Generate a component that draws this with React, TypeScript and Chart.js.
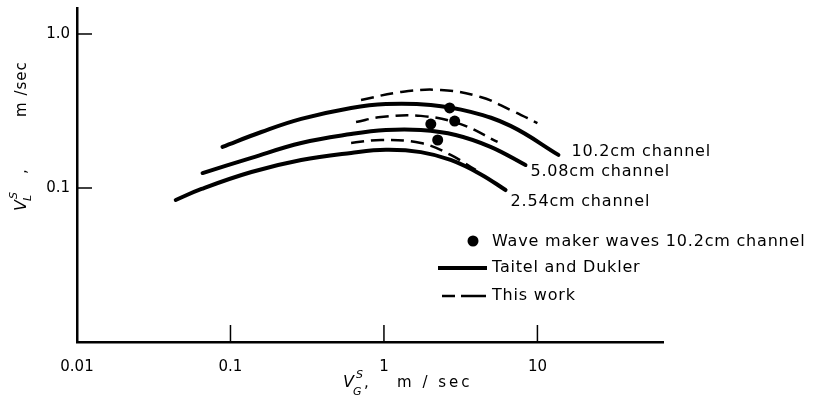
import React, { useEffect, useRef } from "react";
import { Chart, registerables } from "chart.js";

Chart.register(...registerables);

const FONT = "'DejaVu Sans', sans-serif";

// Axis ticks
const xTicks = [0.01, 0.1, 1, 10];
const xTickLabels = ["0.01", "0.1", "1", "10"];
const yTicks = [0.1, 1];
const yTickLabels = ["0.1", "1.0"];

// Taitel and Dukler (solid)
const td102X = [0.0887, 0.159, 0.289, 0.611, 1.03, 2.02, 3.67, 6.68, 13.7];
const td102Y = [0.185, 0.231, 0.281, 0.331, 0.351, 0.346, 0.312, 0.253, 0.164];
const td508X = [0.0658, 0.137, 0.289, 0.611, 1.03, 1.74, 2.93, 4.95, 8.36];
const td508Y = [0.125, 0.157, 0.196, 0.224, 0.238, 0.238, 0.221, 0.185, 0.141];
const td254X = [0.044, 0.0648, 0.137, 0.289, 0.611, 1.03, 1.74, 2.72, 4.26, 6.2];
const td254Y = [0.0836, 0.0986, 0.127, 0.152, 0.169, 0.177, 0.171, 0.152, 0.123, 0.097];

// This work (dashed)
const tw102X = [0.709, 1.29, 2.35, 4.26, 6.68, 10.0];
const tw102Y = [0.373, 0.42, 0.433, 0.39, 0.321, 0.264];
const tw508X = [0.658, 0.957, 1.74, 3.16, 5.5];
const tw508Y = [0.268, 0.289, 0.294, 0.26, 0.199];
const tw254X = [0.611, 0.957, 1.74, 2.72, 3.96];
const tw254Y = [0.196, 0.205, 0.196, 0.164, 0.131];

// Wave maker waves, 10.2 cm channel
const wmX = [2.68, 2.89, 2.02, 2.24];
const wmY = [0.331, 0.272, 0.26, 0.205];

const curveLabels = ["10.2cm channel", "5.08cm channel", "2.54cm channel"];
const legendLabels = ["Wave maker waves 10.2cm channel", "Taitel and Dukler", "This work"];

const pts = (xs: number[], ys: number[]) => xs.map((x, i) => ({ x, y: ys[i] }));

const solid = (xs: number[], ys: number[]) => ({
  data: pts(xs, ys),
  borderColor: "#000",
  borderWidth: 4,
  pointRadius: 0,
  tension: 0.4,
  fill: false,
  borderCapStyle: "round" as const,
});
const dashed = (xs: number[], ys: number[]) => ({
  data: pts(xs, ys),
  borderColor: "#000",
  borderWidth: 2.5,
  borderDash: [13, 7],
  pointRadius: 0,
  tension: 0.4,
  fill: false,
});

const innerTicks = {
  id: "innerTicks",
  afterDraw(chart: any) {
    const { ctx, chartArea, scales } = chart;
    ctx.save();
    ctx.strokeStyle = "#000";
    ctx.lineWidth = 1.5;
    for (const v of xTicks) {
      const px = scales.x.getPixelForValue(v);
      if (px - chartArea.left < 3) continue;
      ctx.beginPath();
      ctx.moveTo(px, chartArea.bottom);
      ctx.lineTo(px, chartArea.bottom - 17);
      ctx.stroke();
    }
    for (const v of yTicks) {
      const py = scales.y.getPixelForValue(v);
      ctx.beginPath();
      ctx.moveTo(chartArea.left, py);
      ctx.lineTo(chartArea.left + 15, py);
      ctx.stroke();
    }
    ctx.restore();
  },
};

const texts = {
  id: "texts",
  afterDraw(chart: any) {
    const { ctx } = chart;
    ctx.save();
    ctx.fillStyle = "#000";
    ctx.strokeStyle = "#000";
    // curve labels anchored at ends of solid curves
    const offs = [
      [13, -3],
      [5, 7],
      [5, 12],
    ];
    for (let i = 0; i < 3; i++) {
      const meta = chart.getDatasetMeta(i);
      const last = meta.data[meta.data.length - 1];
      ctx.font = `16px ${FONT}`;
      (ctx as any).letterSpacing = "0.8px";
      ctx.textBaseline = "middle";
      ctx.textAlign = "left";
      ctx.fillText(curveLabels[i], last.x + offs[i][0], last.y + offs[i][1]);
    }
    // legend
    ctx.beginPath();
    ctx.arc(473, 241, 5.5, 0, Math.PI * 2);
    ctx.fill();
    ctx.fillText(legendLabels[0], 492, 242);
    ctx.lineWidth = 4;
    ctx.beginPath();
    ctx.moveTo(438, 268);
    ctx.lineTo(487, 268);
    ctx.stroke();
    ctx.fillText(legendLabels[1], 492, 268);
    ctx.lineWidth = 2.5;
    ctx.beginPath();
    ctx.moveTo(442, 296);
    ctx.lineTo(455, 296);
    ctx.moveTo(461, 296);
    ctx.lineTo(486, 296);
    ctx.stroke();
    ctx.fillText(legendLabels[2], 492, 296);

    // x axis title
    ctx.textBaseline = "alphabetic";
    (ctx as any).letterSpacing = "0px";
    ctx.font = `italic 16px ${FONT}`;
    ctx.fillText("V", 343, 387);
    ctx.font = `italic 11px ${FONT}`;
    ctx.fillText("S", 356, 378);
    ctx.fillText("G", 353, 395);
    ctx.font = `15px ${FONT}`;
    ctx.fillText(",", 364, 387);
    (ctx as any).letterSpacing = "3px";
    ctx.fillText("m / sec", 397, 387);

    // y axis title (rotated)
    ctx.translate(26, 211);
    ctx.rotate(-Math.PI / 2);
    (ctx as any).letterSpacing = "0px";
    ctx.font = `italic 16px ${FONT}`;
    ctx.fillText("V", 0, 0);
    ctx.font = `italic 11px ${FONT}`;
    ctx.fillText("S", 12, -9);
    ctx.fillText("L", 10, 5);
    ctx.font = `15px ${FONT}`;
    ctx.fillText(",", 37, 0);
    (ctx as any).letterSpacing = "1px";
    ctx.font = `15px ${FONT}`;
    ctx.fillText("m /sec", 94, 0);
    ctx.restore();
  },
};

export default function App() {
  const ref = useRef<HTMLCanvasElement>(null);
  useEffect(() => {
    const canvas = ref.current!;
    const chart = new Chart(canvas, {
      type: "line",
      data: {
        datasets: [
          solid(td102X, td102Y),
          solid(td508X, td508Y),
          solid(td254X, td254Y),
          dashed(tw102X, tw102Y),
          dashed(tw508X, tw508Y),
          dashed(tw254X, tw254Y),
          {
            data: pts(wmX, wmY),
            showLine: false,
            pointRadius: 5.5,
            pointBackgroundColor: "#000",
            pointBorderColor: "#000",
            pointBorderWidth: 0,
          } as any,
        ],
      },
      options: {
        responsive: false,
        maintainAspectRatio: false,
        animation: false,
        layout: { padding: { left: 0, right: 150, top: 8, bottom: 0 } },
        plugins: { legend: { display: false }, tooltip: { enabled: false } },
        scales: {
          x: {
            type: "logarithmic",
            min: 0.01,
            max: 65.8,
            afterBuildTicks: (s: any) => {
              s.ticks = xTicks.map((v) => ({ value: v }));
            },
            afterFit: (s: any) => {
              s.height = 58;
              s.paddingLeft = 0;
              s.paddingRight = 0;
            },
            grid: { display: false, drawTicks: false },
            border: { display: true, color: "#000", width: 2.5 },
            ticks: {
              padding: 16,
              color: "#000",
              autoSkip: false,
              maxRotation: 0,
              font: { family: FONT, size: 15 },
              callback: (_v: any, i: number) => xTickLabels[i],
            },
          },
          y: {
            type: "logarithmic",
            min: 0.01,
            max: 1.475,
            afterBuildTicks: (s: any) => {
              s.ticks = yTicks.map((v) => ({ value: v }));
            },
            afterFit: (s: any) => {
              s.width = 77;
              s.paddingTop = 0;
              s.paddingBottom = 0;
            },
            grid: { display: false, drawTicks: false },
            border: { display: true, color: "#000", width: 2.5 },
            ticks: {
              padding: 7,
              color: "#000",
              autoSkip: false,
              font: { family: FONT, size: 15 },
              callback: (_v: any, i: number) => yTickLabels[i],
            },
          },
        },
      },
      plugins: [innerTicks, texts],
    });
    return () => chart.destroy();
  }, []);
  return (
    <div style={{ position: "fixed", left: 0, top: 0, width: 813, height: 400, background: "#fff" }}>
      <canvas ref={ref} width={813} height={400} />
    </div>
  );
}
